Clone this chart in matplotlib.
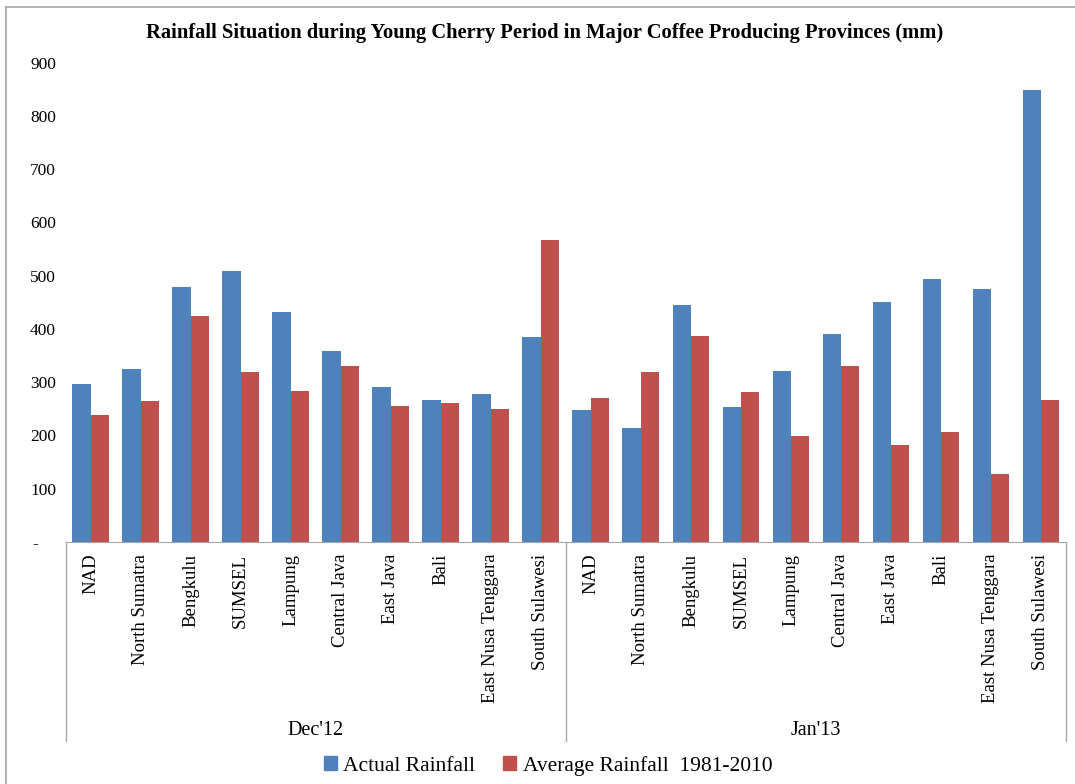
import matplotlib
matplotlib.use('Agg')
import matplotlib.pyplot as plt
import matplotlib.transforms as mtransforms
from matplotlib.lines import Line2D
from matplotlib.patches import Patch
import numpy as np

plt.rcParams['font.family'] = ['Liberation Serif', 'DejaVu Serif']

# data (mm)
provinces = ['NAD', 'North Sumatra', 'Bengkulu', 'SUMSEL', 'Lampung', 'Central Java',
             'East Java', 'Bali', 'East Nusa Tenggara', 'South Sulawesi']
periods = ["Dec'12", "Jan'13"]
actual_dec = [296, 324, 478, 509, 432, 358, 291, 267, 278, 384]
average_dec = [239, 265, 425, 318, 283, 330, 255, 260, 250, 566]
actual_jan = [248, 214, 444, 254, 321, 391, 450, 494, 474, 848]
average_jan = [271, 318, 387, 282, 199, 330, 181, 207, 128, 267]

actual = actual_dec + actual_jan
average = average_dec + average_jan
labels = provinces + provinces

blue = '#4F81BD'
red = '#C0504D'
grey = '#A6A6A6'

fig = plt.figure(figsize=(10.75, 7.84), dpi=100)
ax = fig.add_axes([0.0611, 0.309, 0.9305, 0.611])

x = np.arange(len(labels))
w = 0.367
ax.bar(x - w / 2, actual, w, color=blue, label='Actual Rainfall')
ax.bar(x + w / 2, average, w, color=red, label='Average Rainfall  1981-2010')

ax.set_xlim(-0.5, len(labels) - 0.5)
ax.set_ylim(0, 900)
ax.set_yticks(range(0, 901, 100))
# zero shown as an accounting-style dash, as in the source
ax.set_yticklabels(['-    '] + [str(v) for v in range(100, 901, 100)], fontsize=12.5)
ax.tick_params(axis='y', length=0, pad=7)
ax.set_xticks([])
for s in ['top', 'right', 'left']:
    ax.spines[s].set_visible(False)
ax.spines['bottom'].set_color(grey)

# two-level category axis
trans = mtransforms.blended_transform_factory(ax.transData, ax.transAxes)
for i, lab in enumerate(labels):
    ax.text(i, -0.025, lab, rotation=90, ha='center', va='top', fontsize=13.5,
            transform=trans)
box_bottom = -0.415
for xv in [-0.5, 9.5, 19.5]:
    ax.add_line(Line2D([xv, xv], [0, box_bottom], transform=trans, color=grey,
                       lw=1, clip_on=False))
for j, p in enumerate(periods):
    ax.text(j * 10 + 4.5, -0.393, p, ha='center', va='center', fontsize=14.5,
            transform=trans)

fig.text(0.507, 0.958, 'Rainfall Situation during Young Cherry Period in Major Coffee '
         'Producing Provinces (mm)', ha='center', va='center', fontsize=14.8,
         fontweight='bold')

handles = [Patch(color=blue), Patch(color=red)]
fig.legend(handles, ['Actual Rainfall', 'Average Rainfall  1981-2010'],
           loc='center', bbox_to_anchor=(0.51, 0.023), ncol=2, frameon=False,
           fontsize=15.5, handlelength=0.6, handleheight=0.6, handletextpad=0.3,
           columnspacing=1.3)

# chart frame (left and top edges visible)
fig.add_artist(Line2D([6 / 1075, 6 / 1075], [0, 1 - 7 / 784], color=grey, lw=1.2,
                      transform=fig.transFigure))
fig.add_artist(Line2D([6 / 1075, 1], [1 - 7 / 784, 1 - 7 / 784], color=grey, lw=1.2,
                      transform=fig.transFigure))

fig.savefig('out.png', dpi=100)
